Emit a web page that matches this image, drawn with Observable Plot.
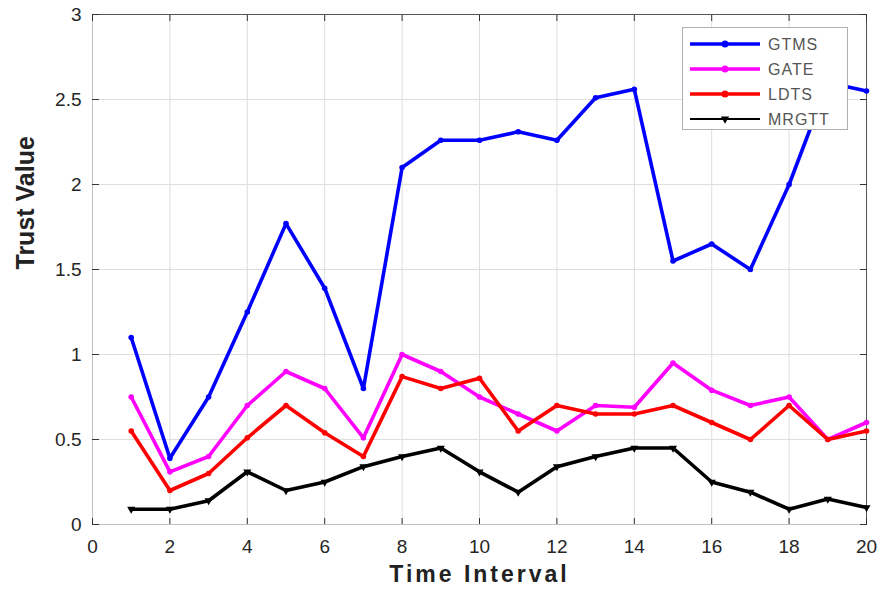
<!DOCTYPE html>
<html>
<head>
<meta charset="utf-8">
<script src="https://cdn.jsdelivr.net/npm/d3@7"></script>
<script src="https://cdn.jsdelivr.net/npm/@observablehq/plot@0.6"></script>
<style>
  html, body { margin: 0; padding: 0; background: #fff; }
  #wrap { position: relative; width: 881px; height: 592px; font-family: "Liberation Sans", Arial, sans-serif; }
  #legend { position: absolute; left: 682px; top: 27px; width: 166px; height: 103px; background: #fff; border: 1px solid #b0b0b0; box-sizing: border-box; }
</style>
</head>
<body>
<div id="wrap"><div id="legend"></div></div>
<script>
const timeIntervals = [1,2,3,4,5,6,7,8,9,10,11,12,13,14,15,16,17,18,19,20];
const gtms  = [1.10,0.39,0.75,1.25,1.77,1.39,0.80,2.10,2.26,2.26,2.31,2.26,2.51,2.56,1.55,1.65,1.50,2.00,2.60,2.55];
const gate  = [0.75,0.31,0.40,0.70,0.90,0.80,0.51,1.00,0.90,0.75,0.65,0.55,0.70,0.69,0.95,0.79,0.70,0.75,0.50,0.60];
const ldts  = [0.55,0.20,0.30,0.51,0.70,0.54,0.40,0.87,0.80,0.86,0.55,0.70,0.65,0.65,0.70,0.60,0.50,0.70,0.50,0.55];
const mrgtt = [0.09,0.09,0.14,0.31,0.20,0.25,0.34,0.40,0.45,0.31,0.19,0.34,0.40,0.45,0.45,0.25,0.19,0.09,0.15,0.10];
const seriesNames = ["GTMS","GATE","LDTS","MRGTT"];
const seriesColors = ["#0000ff","#ff00ff","#ff0000","#000000"];
const xTicks = [0,2,4,6,8,10,12,14,16,18,20];
const yTicks = [0,0.5,1,1.5,2,2.5,3];

const seriesValues = [gtms, gate, ldts, mrgtt];
const rows = seriesNames.map((name, i) => timeIntervals.map((t, j) => ({x: t, y: seriesValues[i][j], series: name})));

const lineMarks = [];
rows.forEach((data, i) => {
  const isBlack = seriesNames[i] === "MRGTT";
  lineMarks.push(Plot.line(data, {x: "x", y: "y", stroke: seriesColors[i], strokeWidth: 3.6, strokeLinejoin: "round"}));
  lineMarks.push(Plot.dot(data, {x: "x", y: "y", fill: seriesColors[i], r: isBlack ? 3 : 2.8, symbol: isBlack ? "triangle" : "circle", rotate: isBlack ? 180 : 0}));
});

const tickColor = "#262626";
const chart = Plot.plot({
  width: 881,
  height: 592,
  marginLeft: 92,
  marginRight: 15,
  marginTop: 14,
  marginBottom: 68,
  style: {fontFamily: "'Liberation Sans', Arial, sans-serif", background: "#fff", color: tickColor},
  x: {domain: [0, 20]},
  y: {domain: [0, 3]},
  marks: [
    Plot.gridX(xTicks, {stroke: "#dedede", strokeOpacity: 1}),
    Plot.gridY(yTicks, {stroke: "#dedede", strokeOpacity: 1}),
    Plot.ruleX([0], {stroke: "#c0c0c0"}),
    Plot.ruleY([0], {stroke: "#c0c0c0"}),
    Plot.ruleX([20], {stroke: "#555"}),
    Plot.ruleY([3], {stroke: "#555"}),
    Plot.axisX(xTicks, {anchor: "bottom", tickSize: -6, tickPadding: 21, fontSize: 19, tickFormat: d => String(d), label: null, stroke: "#333"}),
    Plot.axisX(xTicks, {anchor: "top", tickSize: -6, text: null, label: null, stroke: "#333"}),
    Plot.axisY(yTicks, {anchor: "left", tickSize: -7, tickPadding: 18, fontSize: 19, tickFormat: d => String(d), label: null, stroke: "#333"}),
    Plot.axisY(yTicks, {anchor: "right", tickSize: -7, text: null, label: null, stroke: "#333"}),
    ...lineMarks,
    Plot.text(["Time Interval"], {frameAnchor: "bottom", dy: 57, fontSize: 23, fontWeight: "bold", fill: "#222"}),
    Plot.text(["Trust Value"], {frameAnchor: "left", dx: -67, rotate: -90, fontSize: 25, fontWeight: "bold", fill: "#222"})
  ]
});

d3.select(chart).selectAll("text").filter(function() { return this.textContent === "Time Interval"; }).style("letter-spacing", "3px");

const wrap = document.getElementById("wrap");
wrap.insertBefore(chart, wrap.firstChild);

// legend
const lsvg = d3.select("#legend").append("svg").attr("width", 164).attr("height", 101);
seriesNames.forEach((name, i) => {
  const y = 16 + i * 25;
  const isBlack = name === "MRGTT";
  lsvg.append("line").attr("x1", 7).attr("x2", 77).attr("y1", y).attr("y2", y)
    .attr("stroke", seriesColors[i]).attr("stroke-width", isBlack ? 2 : 3.4);
  if (isBlack) {
    lsvg.append("path").attr("d", d3.symbol(d3.symbolTriangle, 30)()).attr("transform", `translate(42,${y}) rotate(180)`).attr("fill", "#000");
  } else {
    lsvg.append("circle").attr("cx", 42).attr("cy", y).attr("r", 3.5).attr("fill", seriesColors[i]);
  }
  lsvg.append("text").attr("x", 85).attr("y", y).attr("dy", "0.36em")
    .attr("font-size", 16).attr("fill", "#555").attr("letter-spacing", "1px")
    .attr("font-family", "'Liberation Sans', Arial, sans-serif").text(name);
});
</script>
</body>
</html>
